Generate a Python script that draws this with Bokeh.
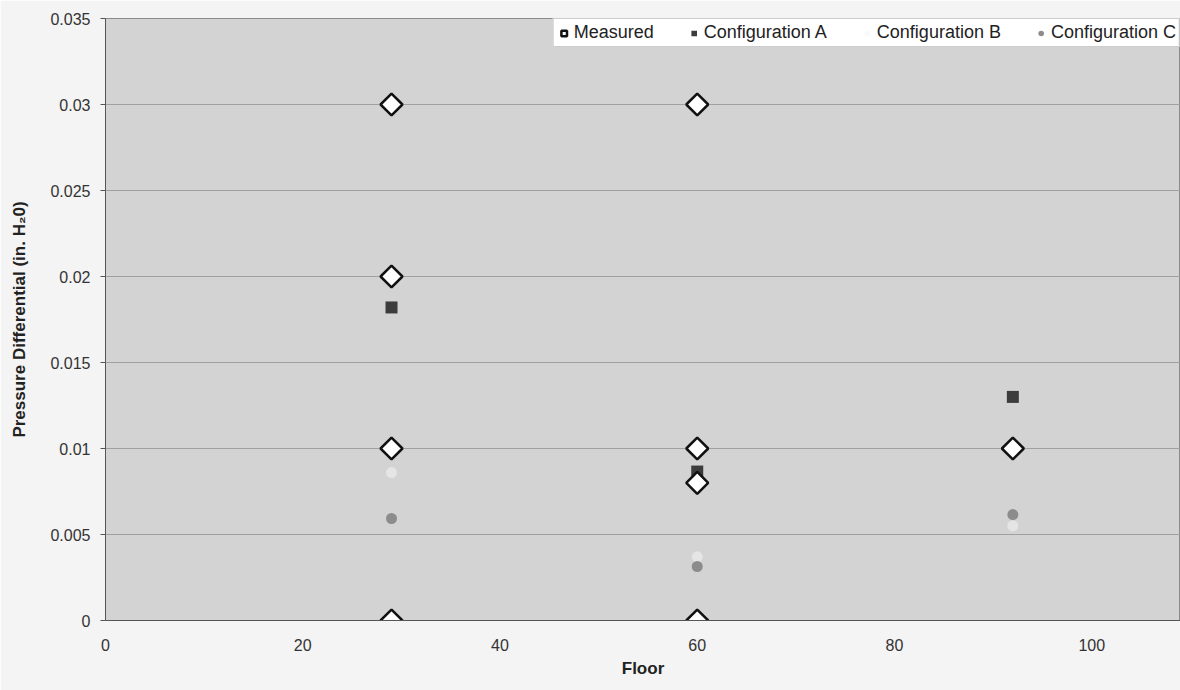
import math
from bokeh.plotting import figure
from bokeh.models import Range1d, Legend, LegendItem, FixedTicker
from bokeh.embed import file_html
from bokeh.resources import INLINE

# Data
meas_floor = [29, 29, 29, 29, 60, 60, 60, 60, 92]
meas_dp = [0.03, 0.02, 0.01, 0.0, 0.03, 0.01, 0.008, 0.0, 0.01]
a_floor = [29, 60, 92]
a_dp = [0.0182, 0.00866, 0.0130]
b_floor = [29, 60, 92]
b_dp = [0.0086, 0.0037, 0.0055]
c_floor = [29, 60, 92]
c_dp = [0.00593, 0.00314, 0.00616]
x_ticks = [0, 20, 40, 60, 80, 100]
y_ticks = [0, 0.005, 0.01, 0.015, 0.02, 0.025, 0.03, 0.035]

FONT = "Liberation Sans"

p = figure(width=1180, height=690, output_backend="svg", toolbar_location=None,
           x_range=Range1d(0, 109), y_range=Range1d(0, 0.035),
           min_border_left=105, min_border_right=0, min_border_top=18, min_border_bottom=70)
p.background_fill_color = "#d3d3d3"
p.border_fill_color = "#f4f4f4"
p.outline_line_color = "#8a8a8a"

p.xgrid.visible = False
p.ygrid.ticker = FixedTicker(ticks=y_ticks)
p.ygrid.grid_line_color = "#a0a0a0"
p.ygrid.grid_line_width = 1

p.xaxis.ticker = FixedTicker(ticks=x_ticks)
p.yaxis.ticker = FixedTicker(ticks=y_ticks)
p.yaxis.major_label_overrides = {0: "0", 0.005: "0.005", 0.01: "0.01", 0.015: "0.015",
                                 0.02: "0.02", 0.025: "0.025", 0.03: "0.03", 0.035: "0.035"}
for ax in (p.xaxis[0], p.yaxis[0]):
    ax.axis_line_color = "#555555"
    ax.major_tick_line_color = "#555555"
    ax.minor_tick_line_color = None
    ax.major_tick_out = 5
    ax.major_tick_in = 0
    ax.major_label_text_font = FONT
    ax.major_label_text_font_size = "16px"
    ax.major_label_text_color = "#333333"
    ax.axis_label_text_font = FONT
    ax.axis_label_text_font_size = "17px"
    ax.axis_label_text_font_style = "bold"
    ax.axis_label_text_color = "#222222"
p.xaxis.major_tick_line_color = None
p.xaxis.major_label_standoff = 13
p.xaxis.axis_label = "Floor"
p.xaxis.axis_label_standoff = 5
p.yaxis.axis_label = "Pressure Differential (in. H\u20820)"
p.yaxis.axis_label_standoff = 18
p.yaxis.major_label_standoff = 10

rb = p.scatter(b_floor, b_dp, marker="circle", size=11, fill_color="#f4f4f4",
               fill_alpha=0.55, line_color=None)
rc = p.scatter(c_floor, c_dp, marker="circle", size=11, fill_color="#8c8c8c", line_color=None)
ra = p.scatter(a_floor, a_dp, marker="square", size=12, fill_color="#3c3c3c", line_color=None)
rm = p.scatter(meas_floor, meas_dp, marker="square", size=15.5, angle=math.pi / 4,
               fill_color="white", line_color="#111111", line_width=2.5)

legend = Legend(items=[
    LegendItem(label="Measured", renderers=[rm]),
    LegendItem(label="Configuration A", renderers=[ra]),
    LegendItem(label="Configuration B", renderers=[rb]),
    LegendItem(label="Configuration C", renderers=[rc]),
], orientation="horizontal", location="top_right")
legend.label_text_font = FONT
legend.label_text_font_size = "18px"
legend.label_text_color = "#222222"
legend.glyph_width = 14
legend.glyph_height = 14
legend.label_standoff = 3
legend.spacing = 33
legend.padding = 3
legend.margin = 0
legend.border_line_color = "#999999"
legend.background_fill_color = "white"
legend.background_fill_alpha = 1
p.add_layout(legend)

open("out.html", "w").write(file_html(p, INLINE))
